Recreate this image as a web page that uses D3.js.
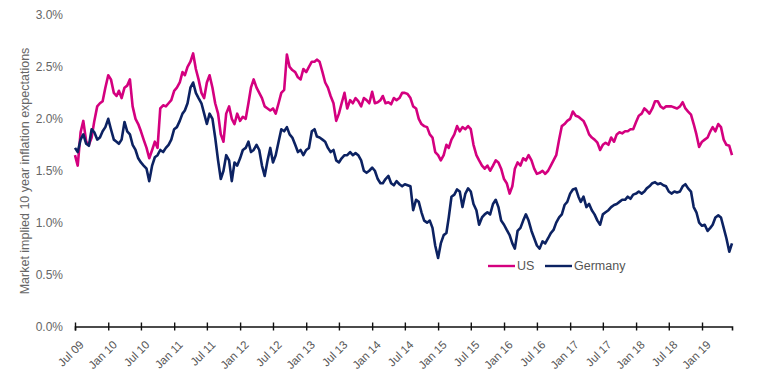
<!DOCTYPE html>
<html>
<head>
<meta charset="utf-8">
<script src="https://cdn.jsdelivr.net/npm/d3@7"></script>
<style>
  html, body { margin: 0; padding: 0; background: #fff; }
  svg { display: block; font-family: 'Liberation Sans', Arial, sans-serif; }
</style>
</head>
<body>
<div id="chart"></div>
<script>
// Market implied 10 year inflation expectations, US vs Germany
// semi-monthly readings (1st and 16th of each month), Jul 2009 - Jun 2019

var startMonth = '2009-07';

var usValues = [
  1.65, 1.55, 1.87, 1.98, 1.78, 1.75, 1.82, 1.98, 2.12, 2.15, 2.17, 2.30,
  2.42, 2.38, 2.25, 2.22, 2.27, 2.20, 2.30, 2.32, 2.38, 2.12, 2.00, 1.95,
  1.88, 1.80, 1.72, 1.62, 1.70, 1.78, 1.72, 2.10, 2.13, 2.12, 2.15, 2.18,
  2.27, 2.30, 2.35, 2.45, 2.42, 2.50, 2.55, 2.63, 2.48, 2.38, 2.25, 2.20,
  2.35, 2.42, 2.30, 2.15, 2.05, 1.85, 1.78, 2.05, 2.12, 2.00, 1.95, 2.05,
  1.98, 2.02, 2.00, 2.15, 2.30, 2.38, 2.30, 2.25, 2.20, 2.12, 2.10, 2.08,
  2.10, 2.05, 2.15, 2.25, 2.28, 2.62, 2.50, 2.47, 2.45, 2.40, 2.38, 2.48,
  2.45, 2.50, 2.55, 2.55, 2.57, 2.55, 2.45, 2.35, 2.30, 2.22, 2.15, 1.98,
  2.05, 2.15, 2.25, 2.10, 2.18, 2.15, 2.20, 2.17, 2.12, 2.20, 2.18, 2.15,
  2.26, 2.15, 2.16, 2.18, 2.22, 2.15, 2.16, 2.14, 2.20, 2.18, 2.20, 2.25,
  2.25, 2.24, 2.20, 2.12, 2.10, 2.00, 1.95, 1.93, 1.92, 1.85, 1.82, 1.68,
  1.65, 1.60, 1.65, 1.75, 1.72, 1.80, 1.85, 1.93, 1.88, 1.92, 1.90, 1.93,
  1.90, 1.75, 1.65, 1.60, 1.55, 1.52, 1.55, 1.50, 1.55, 1.60, 1.58, 1.52,
  1.42, 1.38, 1.28, 1.35, 1.52, 1.58, 1.55, 1.62, 1.60, 1.65, 1.60, 1.52,
  1.47, 1.48, 1.50, 1.47, 1.50, 1.55, 1.60, 1.65, 1.80, 1.93, 1.95, 1.98,
  2.00, 2.07, 2.03, 2.02, 2.00, 1.98, 1.92, 1.85, 1.82, 1.80, 1.77, 1.70,
  1.75, 1.77, 1.75, 1.82, 1.78, 1.85, 1.87, 1.86, 1.88, 1.88, 1.90, 1.90,
  1.97, 2.03, 2.05, 2.10, 2.08, 2.05, 2.10, 2.17, 2.17, 2.12, 2.10, 2.12,
  2.12, 2.12, 2.11, 2.10, 2.12, 2.16, 2.10, 2.07, 2.04, 1.95, 1.85, 1.73,
  1.78, 1.80, 1.82, 1.88, 1.92, 1.88, 1.95, 1.92, 1.80, 1.75, 1.74, 1.65
];

var deValues = [
  1.72, 1.68, 1.80, 1.85, 1.76, 1.74, 1.90, 1.87, 1.80, 1.82, 1.88, 1.92,
  2.00, 1.90, 1.80, 1.78, 1.76, 1.80, 1.97, 1.88, 1.85, 1.75, 1.70, 1.62,
  1.58, 1.55, 1.52, 1.40, 1.55, 1.63, 1.65, 1.70, 1.68, 1.72, 1.75, 1.80,
  1.90, 1.92, 1.98, 2.05, 2.08, 2.15, 2.30, 2.35, 2.25, 2.20, 2.15, 2.05,
  1.95, 2.05, 2.00, 1.82, 1.60, 1.42, 1.50, 1.65, 1.60, 1.40, 1.58, 1.55,
  1.62, 1.70, 1.72, 1.78, 1.68, 1.70, 1.75, 1.70, 1.55, 1.45, 1.60, 1.72,
  1.58, 1.65, 1.78, 1.90, 1.88, 1.92, 1.85, 1.82, 1.75, 1.68, 1.70, 1.65,
  1.70, 1.72, 1.88, 1.90, 1.83, 1.82, 1.80, 1.78, 1.72, 1.68, 1.70, 1.60,
  1.58, 1.62, 1.65, 1.65, 1.68, 1.65, 1.67, 1.65, 1.60, 1.50, 1.48, 1.50,
  1.53, 1.50, 1.42, 1.38, 1.38, 1.42, 1.45, 1.38, 1.36, 1.40, 1.37, 1.35,
  1.37, 1.36, 1.35, 1.12, 1.22, 1.20, 1.10, 1.02, 1.00, 1.02, 0.95, 0.78,
  0.66, 0.80, 0.88, 0.90, 1.05, 1.25, 1.27, 1.32, 1.30, 1.15, 1.28, 1.33,
  1.30, 1.18, 1.12, 0.98, 1.05, 1.08, 1.10, 1.08, 1.18, 1.22, 1.15, 1.02,
  0.98, 0.93, 0.88, 0.80, 0.75, 0.92, 0.95, 1.02, 1.08, 1.02, 0.92, 0.85,
  0.78, 0.75, 0.82, 0.80, 0.85, 0.90, 0.93, 1.00, 1.05, 1.08, 1.17, 1.20,
  1.28, 1.32, 1.33, 1.25, 1.20, 1.25, 1.15, 1.18, 1.12, 1.08, 1.02, 0.98,
  1.08, 1.10, 1.12, 1.15, 1.17, 1.18, 1.20, 1.22, 1.22, 1.25, 1.23, 1.27,
  1.28, 1.30, 1.28, 1.30, 1.33, 1.35, 1.38, 1.39, 1.37, 1.38, 1.36, 1.35,
  1.30, 1.28, 1.30, 1.29, 1.30, 1.35, 1.37, 1.33, 1.30, 1.15, 1.10, 1.00,
  0.97, 0.98, 0.92, 0.95, 0.98, 1.05, 1.07, 1.05, 0.95, 0.85, 0.72, 0.80
];

var xTickLabels = ['Jul 09', 'Jan 10', 'Jul 10', 'Jan 11', 'Jul 11', 'Jan 12', 'Jul 12',
  'Jan 13', 'Jul 13', 'Jan 14', 'Jul 14', 'Jan 15', 'Jul 15', 'Jan 16', 'Jul 16',
  'Jan 17', 'Jul 17', 'Jan 18', 'Jul 18', 'Jan 19'];
var yTicks = [0, 0.5, 1.0, 1.5, 2.0, 2.5, 3.0];

var seriesNames = ['US', 'Germany'];
var seriesColors = ['#d4007f', '#0c2262'];

var width = 757, height = 379;
var margin = { left: 75, right: 25, top: 15, bottom: 52.5 };

// dates: 1st and 16th of each month
var dates = [];
var m0 = d3.timeParse('%Y-%m')(startMonth);
usValues.forEach(function (v, i) {
  var m = d3.timeMonth.offset(m0, Math.floor(i / 2));
  dates.push(i % 2 === 0 ? m : d3.timeDay.offset(m, 15));
});
var parseTick = d3.timeParse('%b %y');

var x = d3.scaleTime()
  .domain([dates[0], dates[dates.length - 1]])
  .range([margin.left, width - margin.right]);
var y = d3.scaleLinear()
  .domain([0, 3])
  .range([height - margin.bottom, margin.top]);

var svg = d3.select('#chart').append('svg')
  .attr('width', width)
  .attr('height', height);

// y axis — labels only
var yAxis = svg.append('g')
  .attr('transform', 'translate(' + margin.left + ',0)')
  .call(d3.axisLeft(y).tickValues(yTicks).tickSize(0).tickPadding(12))
  .call(function (g) { g.select('.domain').remove(); });
yAxis.selectAll('text')
  .text(function (d) { return d.toFixed(1) + '%'; })
  .attr('fill', '#666')
  .attr('font-size', '12px')
  .attr('font-family', "'Liberation Sans', Arial, sans-serif");

svg.append('text')
  .attr('transform', 'translate(29,' + (margin.top + 156) + ') rotate(-90)')
  .attr('text-anchor', 'middle')
  .attr('fill', '#666')
  .attr('font-size', '12.5px')
  .text('Market implied 10 year inflation expectations');

// lines
var line = d3.line()
  .x(function (d) { return x(d[0]); })
  .y(function (d) { return y(d[1]); });

[usValues, deValues].forEach(function (vals, k) {
  svg.append('path')
    .datum(vals.map(function (v, i) { return [dates[i], v]; }))
    .attr('fill', 'none')
    .attr('stroke', seriesColors[k])
    .attr('stroke-width', 2.6)
    .attr('stroke-linejoin', 'round')
    .attr('d', line);
});

// x axis
var xAxis = svg.append('g')
  .attr('transform', 'translate(0,' + y(0) + ')')
  .call(d3.axisBottom(x)
    .tickValues(xTickLabels.map(parseTick))
    .tickFormat(d3.timeFormat('%b %y'))
    .tickSizeOuter(0)
    .tickSize(4));
xAxis.select('.domain')
  .attr('stroke', '#111')
  .attr('stroke-width', 1.6);
xAxis.selectAll('.tick line')
  .attr('y1', -4)
  .attr('y2', 4)
  .attr('stroke', '#111')
  .attr('stroke-width', 1.4);
xAxis.selectAll('.tick text')
  .attr('fill', '#555')
  .attr('font-size', '11.5px')
  .attr('font-family', "'Liberation Sans', Arial, sans-serif")
  .attr('text-anchor', 'end')
  .attr('dy', 0)
  .attr('transform', 'translate(4,14) rotate(-45)');

// legend
var legendX = [488, 545];
seriesNames.forEach(function (name, k) {
  var g = svg.append('g').attr('transform', 'translate(' + legendX[k] + ',266)');
  g.append('line')
    .attr('x1', 0).attr('x2', 27)
    .attr('stroke', seriesColors[k])
    .attr('stroke-width', 2.4);
  g.append('text')
    .attr('x', 29)
    .attr('dy', '0.35em')
    .attr('fill', '#555')
    .attr('font-size', '12.5px')
    .text(name);
});
</script>
</body>
</html>
